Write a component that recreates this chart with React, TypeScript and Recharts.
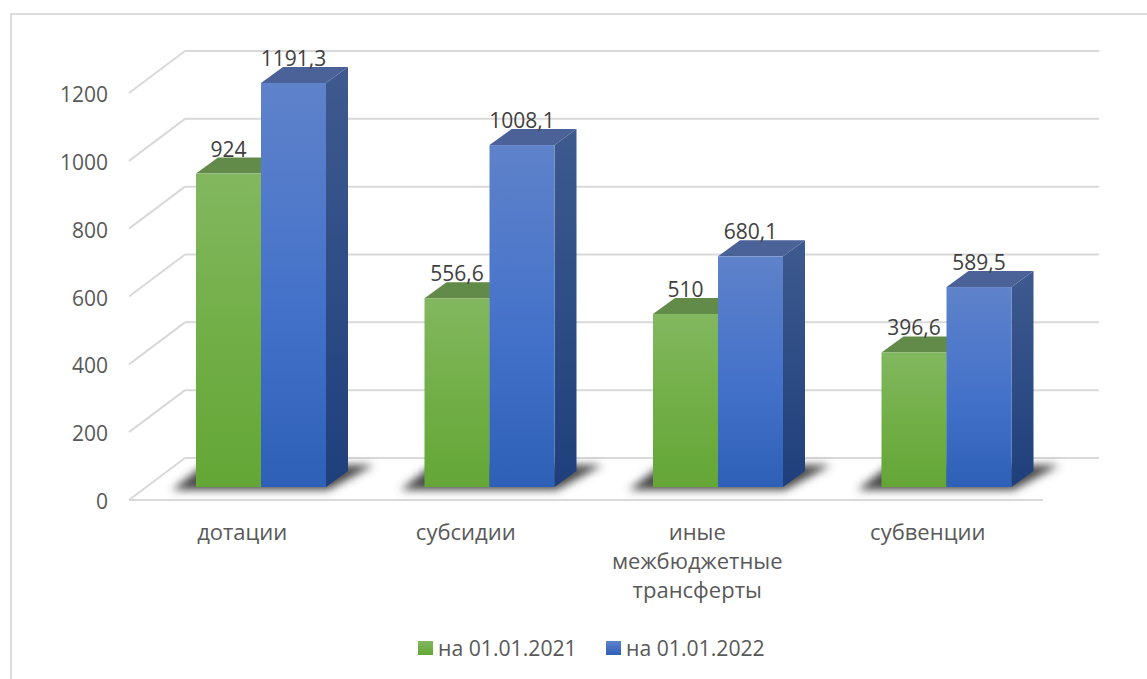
import React from "react";
import { BarChart, Bar, XAxis, YAxis, Legend, LabelList, CartesianGrid } from "recharts";

const categories = ["дотации", "субсидии", "иные межбюджетные трансферты", "субвенции"];
const values2021 = [924, 556.6, 510, 396.6];
const values2022 = [1191.3, 1008.1, 680.1, 589.5];
const yTicks = [0, 200, 400, 600, 800, 1000, 1200];
const seriesNames = ["на 01.01.2021", "на 01.01.2022"];
const categoryLines = [["дотации"], ["субсидии"], ["иные", "межбюджетные", "трансферты"], ["субвенции"]];

const table = categories.map((name, i) => ({ name, a: values2021[i], b: values2022[i] }));

const FONT = "'Open Sans', sans-serif";
const PLOT_LEFT = 129;
const PLOT_RIGHT = 1043;
const PLOT_TOP = 93;
const PLOT_BOTTOM = 500;
const WALL_DX = 56;
const WALL_DY = -42;
const BAR_DX = 18;
const BAR_DY = -13;
const DEPTH_X = 22;
const DEPTH_Y = -16;
const GRID = "#d9d9d9";
const labelNudge = [-1, -6, -3, -1];

const poly = (pts: number[][]) => pts.map((p) => p.join(",")).join(" ");

const makeBarShape = (front: string, top: string, side: string, withShadow: boolean) => (props: any) => {
  const { x, y, width, height } = props;
  const l = x + BAR_DX;
  const r = l + width;
  const t = y + BAR_DY;
  const b = t + height;
  return (
    <g>
      {withShadow && (
        <polygon
          points={poly([
            [l - 24, b + 3],
            [l + 2 * width + 2, b + 3],
            [l + 2 * width + 48, b - 22],
            [l + 8, b - 22],
          ])}
          fill="#484848"
          filter="url(#floorShadow)"
        />
      )}
      <polygon points={poly([[l, t], [r, t], [r + DEPTH_X, t + DEPTH_Y], [l + DEPTH_X, t + DEPTH_Y]])} fill={top} />
      <polygon points={poly([[r, t], [r + DEPTH_X, t + DEPTH_Y], [r + DEPTH_X, b + DEPTH_Y], [r, b]])} fill={`url(#${side})`} />
      <rect x={l} y={t} width={width} height={height} fill={`url(#${front})`} />
    </g>
  );
};

const GreenBar = makeBarShape("greenFront", "#628a49", "greenSide", true);
const BlueBar = makeBarShape("blueFront", "#4a6298", "blueSide", false);

const GridLine = (props: any) => {
  const { y1 } = props;
  return (
    <g key={props.key}>
      <line x1={PLOT_LEFT} y1={y1} x2={PLOT_LEFT + WALL_DX} y2={y1 + WALL_DY} stroke={GRID} strokeWidth={2} />
      <line x1={PLOT_LEFT + WALL_DX} y1={y1 + WALL_DY} x2={PLOT_RIGHT + WALL_DX} y2={y1 + WALL_DY} stroke={GRID} strokeWidth={2} />
    </g>
  );
};

const YTick = (props: any) => {
  const { y, payload } = props;
  return (
    <text x={108} y={y + 9} textAnchor="end" fill="#595959" fontSize={21} fontFamily={FONT}>
      {payload.value}
    </text>
  );
};

const XTick = (props: any) => {
  const { x, payload, index } = props;
  const lines = categoryLines[index] || [payload.value];
  return (
    <text textAnchor="middle" fill="#595959" fontSize={22} fontFamily={FONT}>
      {lines.map((ln: string, i: number) => (
        <tspan key={i} x={x + labelNudge[index]} y={PLOT_BOTTOM + 40 + i * 29}>
          {ln}
        </tspan>
      ))}
    </text>
  );
};

const DataLabel = (props: any) => {
  const { x, y, width, value } = props;
  return (
    <text x={x + BAR_DX + width / 2} y={y + BAR_DY - 17} textAnchor="middle" fill="#404040" fontSize={21} fontFamily={FONT}>
      {String(value).replace(".", ",")}
    </text>
  );
};

const LegendBody = (props: any) => {
  const items = props.payload || [];
  const fills = ["linear-gradient(#82b75f,#64a636)", "linear-gradient(#5f82ca,#2e60b8)"];
  return (
    <div style={{ display: "flex", fontFamily: FONT, fontSize: 21.2, color: "#595959", lineHeight: "28px" }}>
      {items.map((it: any, i: number) => (
        <div key={i} style={{ display: "flex", alignItems: "center", width: 188 }}>
          <span style={{ width: 15, height: 14, background: fills[i], marginRight: 5, display: "inline-block" }} />
          <span>{it.value}</span>
        </div>
      ))}
    </div>
  );
};

export default function App() {
  return (
    <div style={{ position: "absolute", left: 0, top: 0, width: 1147, height: 679, overflow: "hidden", background: "#fff" }}>
      <div style={{ position: "absolute", left: 10, top: 13, width: 1300, height: 800, border: "2px solid #dcdcdc" }} />
      <div style={{ position: "absolute", left: 0, top: 0 }}>
        <BarChart
          width={1147}
          height={679}
          data={table}
          barGap={0}
          barCategoryGap={0}
          barSize={65}
          margin={{ left: 0, top: PLOT_TOP, right: 1147 - PLOT_RIGHT, bottom: 0 }}
        >
          <defs>
            <linearGradient id="greenFront" x1="0" y1="0" x2="0" y2="1">
              <stop offset="0" stopColor="#82b75f" />
              <stop offset="0.55" stopColor="#70ae45" />
              <stop offset="1" stopColor="#64a636" />
            </linearGradient>
            <linearGradient id="blueFront" x1="0" y1="0" x2="0" y2="1">
              <stop offset="0" stopColor="#5f82ca" />
              <stop offset="0.55" stopColor="#4472ca" />
              <stop offset="1" stopColor="#2e60b8" />
            </linearGradient>
            <linearGradient id="greenSide" x1="0" y1="0" x2="0" y2="1">
              <stop offset="0" stopColor="#5a8a40" />
              <stop offset="1" stopColor="#45752a" />
            </linearGradient>
            <linearGradient id="blueSide" x1="0" y1="0" x2="0" y2="1">
              <stop offset="0" stopColor="#3e5a8f" />
              <stop offset="1" stopColor="#1f3f7c" />
            </linearGradient>
            <filter id="floorShadow" x="-20%" y="-50%" width="140%" height="200%">
              <feGaussianBlur stdDeviation="4" />
            </filter>
          </defs>
          <CartesianGrid vertical={false} horizontal={GridLine} />
          <YAxis
            type="number"
            width={PLOT_LEFT}
            domain={[0, 1200]}
            ticks={yTicks}
            axisLine={false}
            tickLine={false}
            tick={<YTick />}
          />
          <XAxis
            dataKey="name"
            height={679 - PLOT_BOTTOM}
            interval={0}
            axisLine={{ stroke: GRID, strokeWidth: 2 }}
            tickLine={false}
            tick={<XTick />}
          />
          <Bar dataKey="a" name={seriesNames[0]} fill="#70ae45" shape={GreenBar} isAnimationActive={false}>
            <LabelList dataKey="a" content={<DataLabel />} />
          </Bar>
          <Bar dataKey="b" name={seriesNames[1]} fill="#4472ca" shape={BlueBar} isAnimationActive={false}>
            <LabelList dataKey="b" content={<DataLabel />} />
          </Bar>
          <Legend
            layout="horizontal"
            align="center"
            verticalAlign="middle"
            content={<LegendBody />}
            wrapperStyle={{ position: "absolute", left: 418, top: 634, width: 400 }}
          />
        </BarChart>
      </div>
    </div>
  );
}
